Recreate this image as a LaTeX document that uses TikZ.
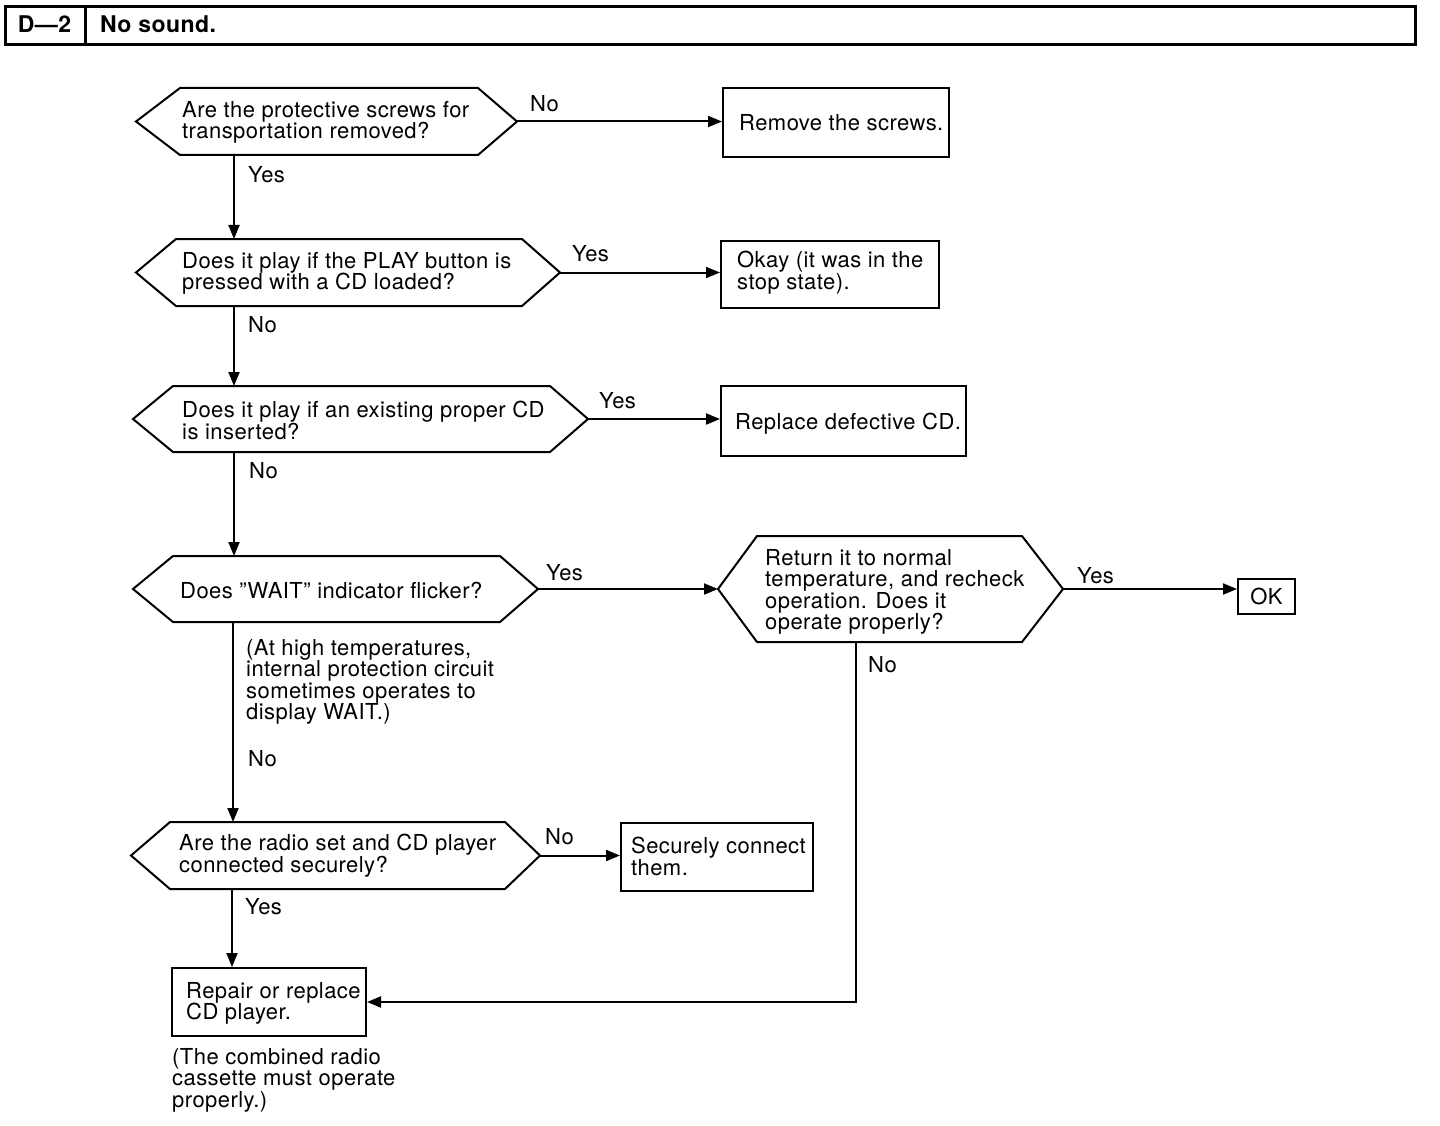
\documentclass[tikz,border=0pt]{standalone}
\usepackage{fontspec}
\setmainfont[LetterSpace=2]{TeX Gyre Heros}
\usetikzlibrary{arrows.meta}
\newcommand\hexo[3]{%
  \draw[line] (#1.west) -- ([xshift=#2]#1.north west) -- ([xshift=-#3]#1.north east)
    -- (#1.east) -- ([xshift=-#3]#1.south east) -- ([xshift=#2]#1.south west) -- cycle;}
\begin{document}
\begin{tikzpicture}[x=1pt,y=-1pt,
  line/.style={line width=2pt},
  conn/.style={line width=2pt,-{Triangle[length=14pt,width=11pt]}},
  frame/.style={draw,line width=2pt,inner sep=0pt,anchor=north west},
  hexbox/.style={inner sep=0pt,outer sep=0pt,anchor=north west},
  txt/.style={inner sep=0pt,align=left,anchor=north west,font=\fontsize{22}{21.5}\selectfont},
  hfont/.style={inner sep=0pt,font=\fontsize{23}{23}\selectfont\bfseries},
  ]
\useasboundingbox[fill=white] (0,0) rectangle (1440,1126);

% header
\node[draw,line width=3pt,inner sep=0pt,anchor=north west,minimum width=1410,minimum height=38] (hdr) at (4,5) {};
\coordinate (dv) at (85,0);
\draw[line width=3pt] (hdr.north -| dv) -- (hdr.south -| dv);
\node[hfont] (hid) at (44.5,24) {D---2};
\node[hfont,anchor=west] (htitle) at (100,24) {No sound.};

% decision shapes
\node[hexbox,minimum width=381,minimum height=67] (h1) at (136,88) {};
\hexo{h1}{44}{39}
\node[hexbox,minimum width=424,minimum height=67] (h2) at (136,239) {};
\hexo{h2}{40}{38}
\node[hexbox,minimum width=455,minimum height=66] (h3) at (133,386) {};
\hexo{h3}{40}{38}
\node[hexbox,minimum width=405,minimum height=66] (h4) at (133,556) {};
\hexo{h4}{40}{38}
\node[hexbox,minimum width=345,minimum height=106] (h5) at (718,536) {};
\hexo{h5}{39}{41}
\node[hexbox,minimum width=409,minimum height=67] (h6) at (131,822) {};
\hexo{h6}{39}{35}

% boxes
\node[frame,minimum width=226,minimum height=69] (b1) at (722,87) {};
\node[frame,minimum width=218,minimum height=67] (b2) at (720,240) {};
\node[frame,minimum width=245,minimum height=70] (b3) at (720,385) {};
\node[frame,minimum width=57,minimum height=35,font=\fontsize{22}{22}\selectfont] (ok) at (1237,578) {OK};
\node[frame,minimum width=192,minimum height=68] (b6) at (620,822) {};
\node[frame,minimum width=194,minimum height=68] (rep) at (171,967) {};

% texts
\node[txt] (t1) at (182,101) {Are the protective screws for\\transportation removed?};
\node[txt] (tb1) at (739,114) {Remove the screws.};
\node[txt] (t2) at (182,252) {Does it play if the PLAY button is\\pressed with a CD loaded?};
\node[txt] (tb2) at (737,251) {Okay (it was in the\\stop state).};
\node[txt] (t3) at (182,401) {Does it play if an existing proper CD\\is inserted?};
\node[txt] (tb3) at (735,413) {Replace defective CD.};
\node[txt] (t4) at (180,582) {Does ''WAIT'' indicator flicker?};
\node[txt] (t5) at (765,549) {Return it to normal\\temperature, and recheck\\operation. Does it\\operate properly?};
\node[txt] (n1) at (246,639) {(At high temperatures,\\internal protection circuit\\sometimes operates to\\display WAIT.)};
\node[txt] (t6) at (179,834) {Are the radio set and CD player\\connected securely?};
\node[txt] (tb6) at (631,837) {Securely connect\\them.};
\node[txt] (trep) at (186,982) {Repair or replace\\CD player.};
\node[txt] (n2) at (172,1048) {(The combined radio\\cassette must operate\\properly.)};

% labels
\node[txt] (l1) at (530,95) {No};
\node[txt] (l2) at (248,166) {Yes};
\node[txt] (l3) at (572,245) {Yes};
\node[txt] (l4) at (248,316) {No};
\node[txt] (l5) at (599,392) {Yes};
\node[txt] (l6) at (249,462) {No};
\node[txt] (l7) at (546,564) {Yes};
\node[txt] (l8) at (1077,567) {Yes};
\node[txt] (l9) at (868,656) {No};
\node[txt] (l10) at (248,750) {No};
\node[txt] (l11) at (545,828) {No};
\node[txt] (l12) at (245,898) {Yes};

% connectors
\coordinate (s1) at (234,0);
\coordinate (s4) at (233,0);
\coordinate (s6) at (232,0);
\coordinate (s5) at (856,0);
\draw[conn] (h1.east) -- (h1.east -| b1.west);
\draw[conn] (h1.south -| s1) -- (h2.north -| s1);
\draw[conn] (h2.east) -- (h2.east -| b2.west);
\draw[conn] (h2.south -| s1) -- (h3.north -| s1);
\draw[conn] (h3.east) -- (h3.east -| b3.west);
\draw[conn] (h3.south -| s1) -- (h4.north -| s1);
\draw[conn] (h4.east) -- (h5.west);
\draw[conn] (h5.east) -- (h5.east -| ok.west);
\draw[conn] (h4.south -| s4) -- (h6.north -| s4);
\draw[conn] (h6.east) -- (h6.east -| b6.west);
\draw[conn] (h6.south -| s6) -- (rep.north -| s6);
\draw[conn] (h5.south -| s5) |- (rep.east);
\end{tikzpicture}
\end{document}
